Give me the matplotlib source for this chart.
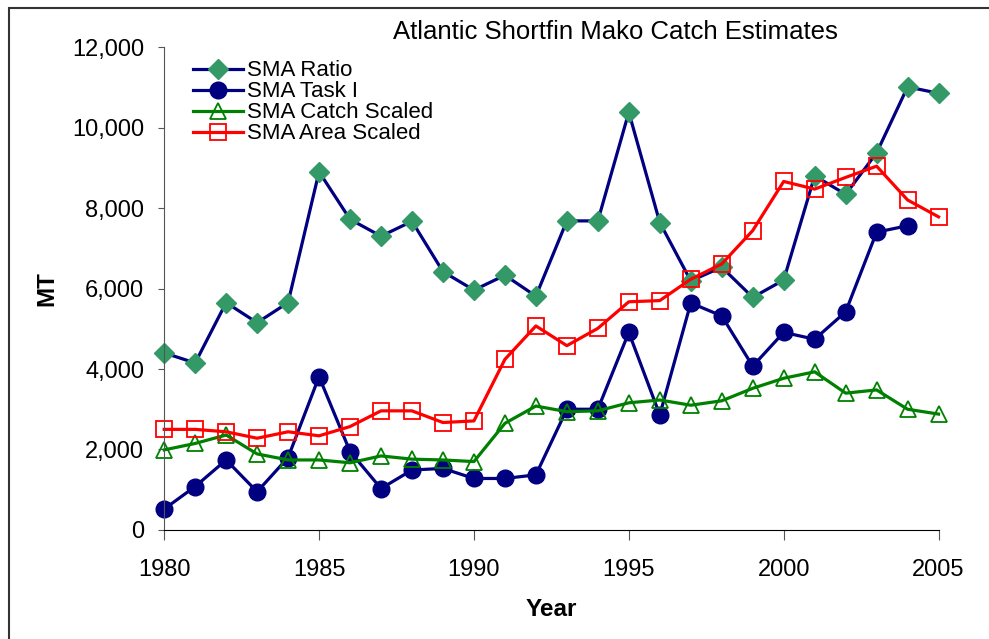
"""Atlantic shortfin mako catch estimates, 1980-2005."""

import matplotlib.pyplot as plt
from matplotlib.patches import Rectangle
from matplotlib.ticker import FuncFormatter

plt.switch_backend("Agg")
plt.rcParams["font.family"] = ["Liberation Sans", "DejaVu Sans"]

years = list(range(1980, 2006))

sma_ratio = [
    4400, 4150, 5650, 5150, 5650, 8900, 7720, 7300, 7670, 6420,
    5960, 6330, 5810, 7680, 7680, 10380, 7640, 6190, 6530, 5780,
    6210, 8800, 8340, 9370, 11010, 10850,
]
sma_task1 = [
    520, 1080, 1740, 950, 1800, 3810, 1950, 1030, 1490, 1530,
    1280, 1280, 1370, 3000, 3000, 4910, 2860, 5640, 5320, 4070,
    4910, 4740, 5420, 7400, 7560,
]
sma_catch_scaled = [
    1990, 2150, 2360, 1890, 1740, 1740, 1670, 1840, 1760, 1740,
    1700, 2650, 3080, 2940, 2960, 3160, 3230, 3100, 3210, 3520,
    3770, 3930, 3400, 3480, 3000, 2880,
]
sma_area_scaled = [
    2500, 2500, 2440, 2280, 2440, 2340, 2570, 2960, 2960, 2670,
    2710, 4240, 5070, 4580, 5010, 5670, 5700, 6230, 6610, 7440,
    8660, 8470, 8760, 9040, 8200, 7780,
]

NAVY = "#000080"
fig = plt.figure(figsize=(9.89, 6.39), dpi=100)
ax = fig.add_axes([0.166, 0.1706, 0.783, 0.7558])

ax.plot(years, sma_ratio, color=NAVY, lw=2.3, marker="D", ms=10,
        mfc="#339966", mec="#339966", label="SMA Ratio", clip_on=False)
ax.plot(years[:len(sma_task1)], sma_task1, color=NAVY, lw=2.3, marker="o",
        ms=12, mfc=NAVY, mec=NAVY, label="SMA Task I", clip_on=False)
ax.plot(years, sma_catch_scaled, color="#008000", lw=2.3, marker="^", ms=12,
        mfc="none", mec="#008000", mew=1.3, label="SMA Catch Scaled",
        clip_on=False)
ax.plot(years, sma_area_scaled, color="#FF0000", lw=2.3, marker="s", ms=11,
        mfc="none", mec="#FF0000", mew=1.3, label="SMA Area Scaled",
        clip_on=False)

ax.set_xlim(1980, 2005)
ax.set_ylim(0, 12000)
ax.set_xticks(range(1980, 2006, 5))
ax.set_yticks(range(0, 12001, 2000))
ax.yaxis.set_major_formatter(FuncFormatter(lambda v, _: f"{int(v):,}"))
ax.tick_params(axis="both", labelsize=17, direction="out", color="#555555")
ax.tick_params(axis="x", length=7, pad=14)
ax.tick_params(axis="y", length=4, pad=10.5)
for side in ("top", "right"):
    ax.spines[side].set_visible(False)
ax.spines["left"].set_color("#555555")
ax.spines["bottom"].set_color("black")

ax.set_xlabel("Year", fontsize=17.5, fontweight="bold", labelpad=12)
ax.set_ylabel("MT", fontsize=17.5, fontweight="bold", labelpad=10)

fig.text(0.622, 0.950, "Atlantic Shortfin Mako Catch Estimates",
         fontsize=18.5, ha="center", va="center")

ax.legend(loc="upper left", bbox_to_anchor=(0.02, 1.0), frameon=False,
          fontsize=16, handlelength=2.25, handletextpad=0.2,
          labelspacing=0.0, borderaxespad=0.2)

fig.add_artist(Rectangle((9 / 989, -0.1), 1.2, 1 - 8 / 639 + 0.1,
                         transform=fig.transFigure, fill=False,
                         edgecolor="#333333", lw=1.5))

fig.savefig("out.png", dpi=100)
